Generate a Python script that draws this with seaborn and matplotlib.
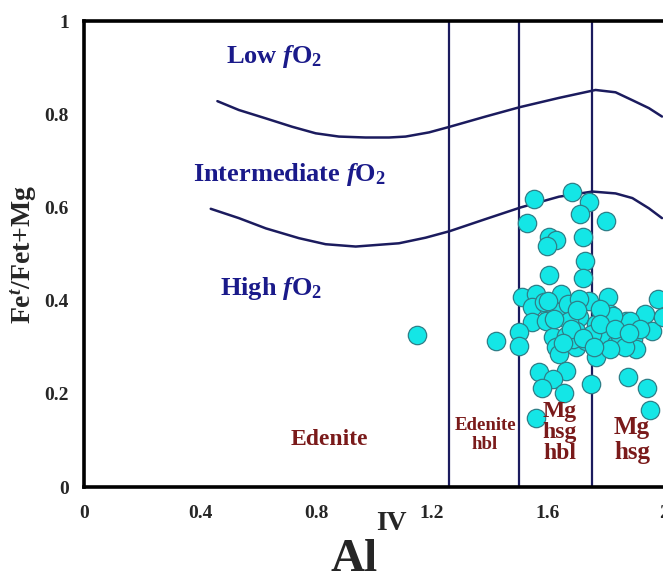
import numpy as np
import pandas as pd
import matplotlib
matplotlib.use("Agg")
import matplotlib.pyplot as plt
import seaborn as sns

# ---------------- data ----------------
# boundary curves
upper_x = [0.460, 0.534, 0.627, 0.718, 0.799, 0.879, 0.971, 1.052, 1.109, 1.190,
           1.261, 1.385, 1.502, 1.638, 1.764, 1.833, 1.891, 1.948, 1.993]
upper_y = [0.828, 0.809, 0.791, 0.773, 0.759, 0.752, 0.750, 0.750, 0.752, 0.761,
           0.773, 0.795, 0.815, 0.835, 0.852, 0.847, 0.830, 0.813, 0.795]
lower_x = [0.437, 0.534, 0.627, 0.741, 0.833, 0.937, 1.086, 1.178, 1.261, 1.385,
           1.506, 1.638, 1.753, 1.833, 1.891, 1.948, 1.993]
lower_y = [0.597, 0.577, 0.555, 0.534, 0.521, 0.516, 0.523, 0.535, 0.549, 0.575,
           0.600, 0.623, 0.634, 0.630, 0.620, 0.598, 0.577]

# vertical classification boundaries
boundaries = [1.26, 1.50, 1.75]

# sample points: Al(IV) and Fet/(Fet+Mg)
al_iv = [1.147, 1.419, 1.552, 1.683, 1.743, 1.711, 1.529, 1.801, 1.604, 1.627,
         1.598, 1.720, 1.729, 1.604, 1.720, 1.511, 1.558, 1.645, 1.743, 1.807,
         1.980, 1.546, 1.604, 1.633, 1.668, 1.708, 1.766, 1.813, 1.870, 1.934,
         1.957, 1.546, 1.593, 1.500, 1.500, 1.616, 1.662, 1.697, 1.627, 1.639,
         1.697, 1.732, 1.789, 1.836, 1.766, 1.893, 1.905, 1.569, 1.662, 1.616,
         1.581, 1.656, 1.749, 1.876, 1.940, 1.951, 1.558, 1.847, 1.882, 1.824,
         1.685, 1.917, 1.778, 1.674, 1.750, 1.865, 1.587, 1.997, 1.708, 1.813,
         1.620, 1.680, 1.720, 1.780, 1.830, 1.880, 1.650, 1.760, 1.700, 1.600]
fe_ratio = [0.327, 0.313, 0.618, 0.633, 0.611, 0.585, 0.567, 0.570, 0.537, 0.530,
            0.518, 0.537, 0.485, 0.454, 0.449, 0.408, 0.415, 0.415, 0.400, 0.408,
            0.404, 0.386, 0.382, 0.375, 0.393, 0.364, 0.350, 0.371, 0.357, 0.371,
            0.335, 0.354, 0.357, 0.332, 0.303, 0.321, 0.325, 0.335, 0.300, 0.285,
            0.300, 0.314, 0.325, 0.307, 0.278, 0.317, 0.296, 0.246, 0.249, 0.231,
            0.213, 0.202, 0.220, 0.237, 0.213, 0.166, 0.148, 0.325, 0.357, 0.368,
            0.317, 0.339, 0.382, 0.356, 0.328, 0.300, 0.397, 0.365, 0.404, 0.296,
            0.360, 0.340, 0.320, 0.350, 0.340, 0.330, 0.310, 0.300, 0.380, 0.400]

x_ticks = [0, 0.4, 0.8, 1.2, 1.6, 2.0]
x_ticklabels = ["0", "0.4", "0.8", "1.2", "1.6", "2"]
y_ticks = [0, 0.2, 0.4, 0.6, 0.8, 1.0]
y_ticklabels = ["0", "0.2", "0.4", "0.6", "0.8", "1"]

# ---------------- style ----------------
sns.set_style("white")
plt.rcParams["font.family"] = ["Liberation Serif", "DejaVu Serif"]
plt.rcParams["font.weight"] = "bold"
plt.rcParams["mathtext.fontset"] = "custom"
plt.rcParams["mathtext.rm"] = "Liberation Serif:bold"
plt.rcParams["mathtext.it"] = "Liberation Serif:italic:bold"
plt.rcParams["mathtext.bf"] = "Liberation Serif:bold"

NAVY = "#1b1b5e"
LABEL_BLUE = "#1a1a8a"
DARK_RED = "#7a1a1a"

fig = plt.figure(figsize=(6.63, 5.77), dpi=100)
ax = fig.add_axes([84 / 663, 1 - 487 / 577, 2.2 * 290 / 663, (487 - 21) / 577])

for b in boundaries:
    ax.axvline(b, color=NAVY, lw=1.6, zorder=1)

sns.lineplot(x=upper_x, y=upper_y, sort=False, estimator=None, color=NAVY,
             lw=1.8, ax=ax, zorder=2)
sns.lineplot(x=lower_x, y=lower_y, sort=False, estimator=None, color=NAVY,
             lw=1.8, ax=ax, zorder=2)

df = pd.DataFrame({"AlIV": al_iv, "Fe": fe_ratio})
sns.scatterplot(data=df, x="AlIV", y="Fe", s=175, color="#14E6E6",
                edgecolor="#2f7f88", linewidth=0.9, ax=ax, zorder=3,
                clip_on=True)

ax.set_xlim(0, 2.2)
ax.set_ylim(0, 1)
ax.set_xticks(x_ticks)
ax.set_xticklabels(x_ticklabels, fontsize=14, fontweight="bold")
ax.set_yticks(y_ticks)
ax.set_yticklabels(y_ticklabels, fontsize=14, fontweight="bold")
ax.tick_params(axis="x", length=0, pad=13)
ax.tick_params(axis="y", length=0, pad=11)
ax.set_xlabel("")
ax.set_ylabel("Fe$^{t}$/Fet+Mg", fontsize=20, fontweight="bold", labelpad=4)

for side in ["left", "bottom", "top"]:
    ax.spines[side].set_visible(True)
    ax.spines[side].set_color("black")
    ax.spines[side].set_linewidth(2.6)
ax.spines["right"].set_visible(False)

# region labels
ax.text(0.655, 0.923, r"Low $\it{f}$O$_2$", color=LABEL_BLUE, fontsize=19,
        ha="center", va="center")
ax.text(0.707, 0.670, r"Intermediate $\it{f}$O$_2$", color=LABEL_BLUE,
        fontsize=19, ha="center", va="center")
ax.text(0.645, 0.425, r"High $\it{f}$O$_2$", color=LABEL_BLUE, fontsize=19,
        ha="center", va="center")

ax.text(0.845, 0.101, "Edenite", color=DARK_RED, fontsize=17, ha="center",
        va="center", zorder=4)
ax.text(1.383, 0.112, "Edenite\nhbl", color=DARK_RED, fontsize=13.5,
        ha="center", va="center", linespacing=1.2, zorder=4)
ax.text(1.641, 0.116, "Mg\nhsg\nhbl", color=DARK_RED, fontsize=17,
        ha="center", va="center", linespacing=1.0, zorder=4)
ax.text(1.890, 0.101, "Mg\nhsg", color=DARK_RED, fontsize=18,
        ha="center", va="center", linespacing=1.1, zorder=4)

# x-axis label Al^IV
fig.text(354 / 663, 1 - 571 / 577, "Al", fontsize=34, fontweight="bold",
         ha="center", va="baseline")
fig.text(376 / 663, 1 - 530 / 577, "IV", fontsize=20, fontweight="bold",
         ha="left", va="baseline")

fig.savefig("out.png", dpi=100)
